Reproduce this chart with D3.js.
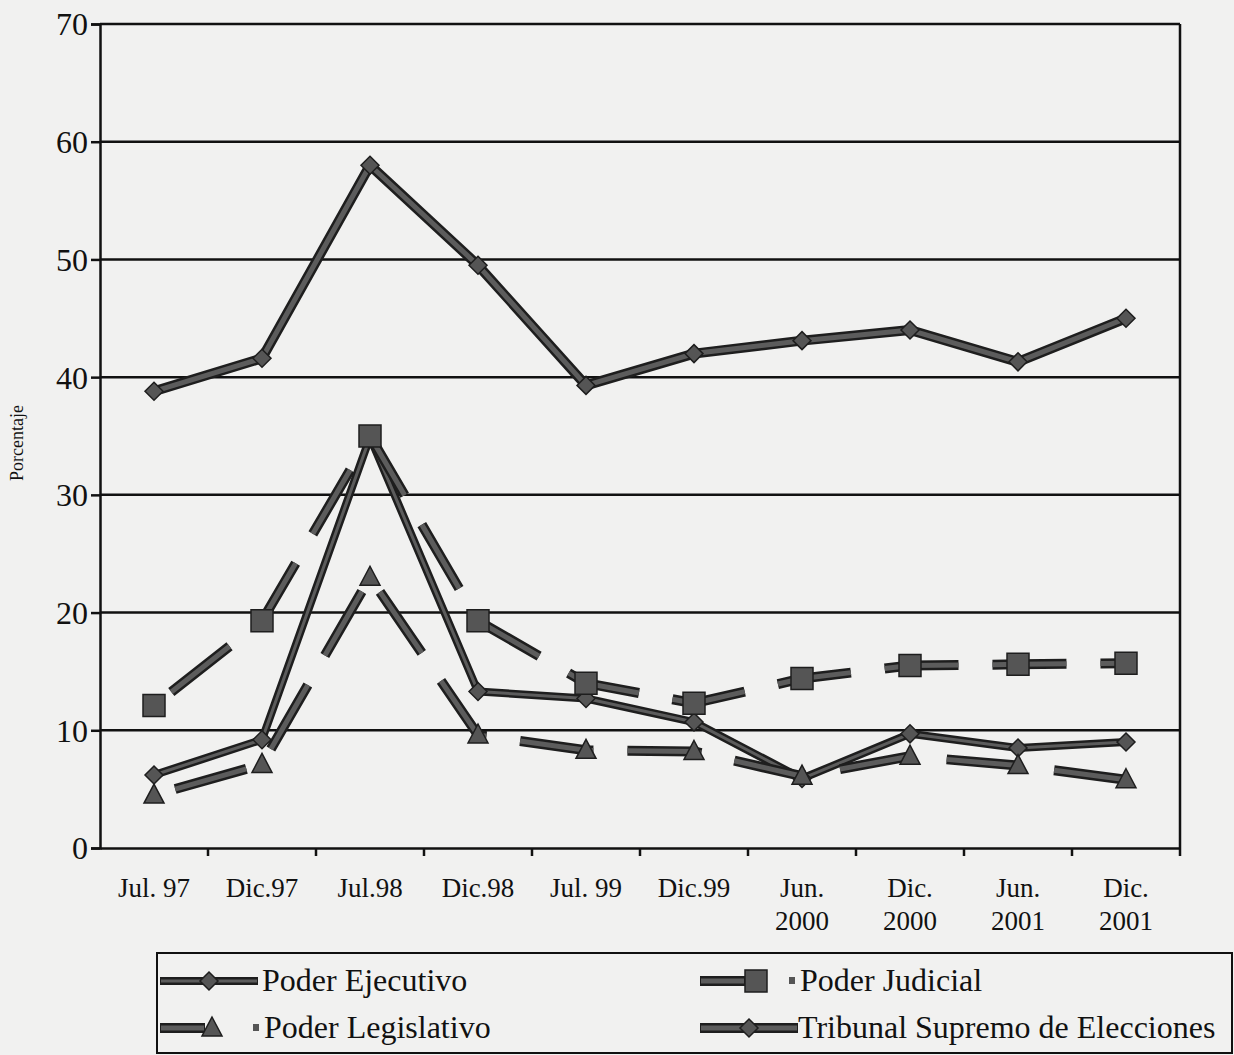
<!DOCTYPE html>
<html>
<head>
<meta charset="utf-8">
<script src="https://cdn.jsdelivr.net/npm/d3@7"></script>
<style>
  body { margin: 0; background: #f1f1f0; }
  svg { display: block; }
  text { font-family: "Liberation Serif", "Times New Roman", serif; fill: #111; }
</style>
</head>
<body>
<svg width="1234" height="1055"></svg>
<script>
// periods on the x axis
var periods = ["Jul. 97", "Dic.97", "Jul.98", "Dic.98", "Jul. 99", "Dic.99",
               "Jun.\n2000", "Dic.\n2000", "Jun.\n2001", "Dic.\n2001"];

var yTicks = [0, 10, 20, 30, 40, 50, 60, 70];

// values (porcentaje)
var ejecutivo   = [6.2, 9.2, 34.9, 13.3, 12.7, 10.7, 5.9, 9.7, 8.5, 9.0];
var judicial    = [12.1, 19.3, 35.0, 19.3, 14.0, 12.3, 14.4, 15.5, 15.6, 15.7];
var legislativo = [4.5, 7.1, 23.0, 9.6, 8.3, 8.2, 6.1, 7.8, 7.0, 5.8];
var tribunal    = [38.8, 41.6, 58.0, 49.5, 39.3, 42.0, 43.1, 44.0, 41.3, 45.0];

var series = [
  { name: "Poder Ejecutivo", values: ejecutivo, marker: "diamond", dashed: false, w: 6 },
  { name: "Poder Judicial", values: judicial, marker: "square", dashed: true, w: 8 },
  { name: "Poder Legislativo", values: legislativo, marker: "triangle", dashed: true, w: 8 },
  { name: "Tribunal Supremo de Elecciones", values: tribunal, marker: "diamond", dashed: false, w: 8 }
];

var svg = d3.select("svg"),
    plotLeft = 100, plotRight = 1180, plotTop = 24, plotBottom = 848;

var x = d3.scaleBand().domain(periods).range([plotLeft, plotRight]);
var y = d3.scaleLinear().domain([0, 70]).range([plotBottom, plotTop]);
var cx = function(d) { return x(d) + x.bandwidth() / 2; };

// grid lines
svg.append("g")
  .selectAll("line")
  .data(yTicks.filter(function(d) { return d > 0; }))
  .enter().append("line")
    .attr("x1", plotLeft).attr("x2", plotRight)
    .attr("y1", function(d) { return y(d); })
    .attr("y2", function(d) { return y(d); })
    .attr("stroke", "#111").attr("stroke-width", 2.5);

// right border
svg.append("line")
  .attr("x1", plotRight).attr("x2", plotRight).attr("y1", y(70)).attr("y2", plotBottom + 8)
  .attr("stroke", "#111").attr("stroke-width", 2.5);

// y axis
var yAxis = svg.append("g")
  .attr("transform", "translate(" + plotLeft + ",0)")
  .call(d3.axisLeft(y).tickValues(yTicks).tickSize(9).tickPadding(3));
yAxis.select(".domain").attr("stroke", "#111").attr("stroke-width", 2.5);
yAxis.selectAll(".tick line").attr("stroke", "#111").attr("stroke-width", 2.5);
yAxis.selectAll("text")
  .style("font-size", "32px").style("font-family", "Liberation Serif")
  .attr("fill", "#111").attr("dy", "0.34em");

// x axis: labels at the centres, ticks at the band edges
var xAxis = svg.append("g")
  .attr("transform", "translate(0," + plotBottom + ")")
  .call(d3.axisBottom(x).tickSize(0).tickPadding(0));
xAxis.select(".domain").attr("stroke", "#111").attr("stroke-width", 2.5);
xAxis.selectAll(".tick text")
  .style("font-size", "27px").style("font-family", "Liberation Serif").attr("fill", "#111")
  .attr("y", 0).attr("dy", null)
  .text(null)
  .each(function(d) {
    var t = d3.select(this);
    d.split("\n").forEach(function(line, i) {
      t.append("tspan").attr("x", 0).attr("y", 49 + i * 33).text(line);
    });
  });

svg.append("g")
  .selectAll("line")
  .data(periods.slice(1))
  .enter().append("line")
    .attr("x1", function(d) { return x(d); })
    .attr("x2", function(d) { return x(d); })
    .attr("y1", plotBottom).attr("y2", plotBottom + 8)
    .attr("stroke", "#111").attr("stroke-width", 2.5);

// axis title
svg.append("text")
  .attr("transform", "translate(23,443) rotate(-90)")
  .attr("text-anchor", "middle")
  .style("font-size", "18px")
  .text("Porcentaje");

// markers
function markerPath(type, s) {
  if (type == "diamond") return "M0," + (-s) + "L" + s + ",0L0," + s + "L" + (-s) + ",0Z";
  if (type == "square") return "M" + (-s) + "," + (-s) + "H" + s + "V" + s + "H" + (-s) + "Z";
  return "M0," + (-s * 1.1) + "L" + s + "," + (s * 0.8) + "H" + (-s) + "Z";
}
var markerSize = { diamond: 9, square: 11, triangle: 10 };

var line = d3.line()
  .x(function(d, i) { return cx(periods[i]); })
  .y(function(d) { return y(d); });

var plot = svg.append("g");

series.forEach(function(s) {
  var g = plot.append("g");
  var dash = s.dashed ? "74,34" : null;
  g.append("path")
    .attr("d", line(s.values))
    .attr("fill", "none")
    .attr("stroke", "#1e1e1e")
    .attr("stroke-width", s.w + 2)
    .attr("stroke-dasharray", dash)
    .attr("stroke-dashoffset", s.dashed ? -22 : null)
    .attr("stroke-linejoin", "round");
  g.append("path")
    .attr("d", line(s.values))
    .attr("fill", "none")
    .attr("stroke", "#5c5c5c")
    .attr("stroke-width", s.w - 3)
    .attr("stroke-dasharray", dash)
    .attr("stroke-dashoffset", s.dashed ? -22 : null)
    .attr("stroke-linejoin", "round");
  g.selectAll(".pt")
    .data(s.values)
    .enter().append("path")
      .attr("class", "pt")
      .attr("transform", function(d, i) { return "translate(" + cx(periods[i]) + "," + y(d) + ")"; })
      .attr("d", markerPath(s.marker, markerSize[s.marker]))
      .attr("fill", "#555")
      .attr("stroke", "#1e1e1e")
      .attr("stroke-width", 1.5);
});

// legend
var legend = svg.append("g");
legend.append("rect")
  .attr("x", 157).attr("y", 953).attr("width", 1075).attr("height", 100)
  .attr("fill", "none").attr("stroke", "#111").attr("stroke-width", 2);

var legendPos = [
  { sx: 160, tx: 262, y: 981 },
  { sx: 700, tx: 800, y: 981 },
  { sx: 160, tx: 264, y: 1028 },
  { sx: 700, tx: 798, y: 1028 }
];

series.forEach(function(s, i) {
  var p = legendPos[i];
  var g = legend.append("g");
  var x2 = s.dashed ? p.sx + 45 : p.sx + 98;
  g.append("line").attr("x1", p.sx).attr("x2", x2).attr("y1", p.y).attr("y2", p.y)
    .attr("stroke", "#1e1e1e").attr("stroke-width", s.w + 2);
  g.append("line").attr("x1", p.sx + 1).attr("x2", x2 - 1).attr("y1", p.y).attr("y2", p.y)
    .attr("stroke", "#5c5c5c").attr("stroke-width", s.w - 3);
  var mx = s.dashed ? (s.marker == "square" ? p.sx + 56 : p.sx + 52) : p.sx + 49;
  g.append("path")
    .attr("transform", "translate(" + mx + "," + p.y + ")")
    .attr("d", markerPath(s.marker, markerSize[s.marker]))
    .attr("fill", "#555").attr("stroke", "#1e1e1e").attr("stroke-width", 1.5);
  if (s.dashed) {
    g.append("rect").attr("x", p.tx - 11).attr("y", p.y - 4).attr("width", 6).attr("height", 7)
      .attr("fill", "#555");
  }
  g.append("text")
    .attr("x", p.tx).attr("y", p.y + 10)
    .style("font-size", "32px")
    .text(s.name);
});
</script>
</body>
</html>
